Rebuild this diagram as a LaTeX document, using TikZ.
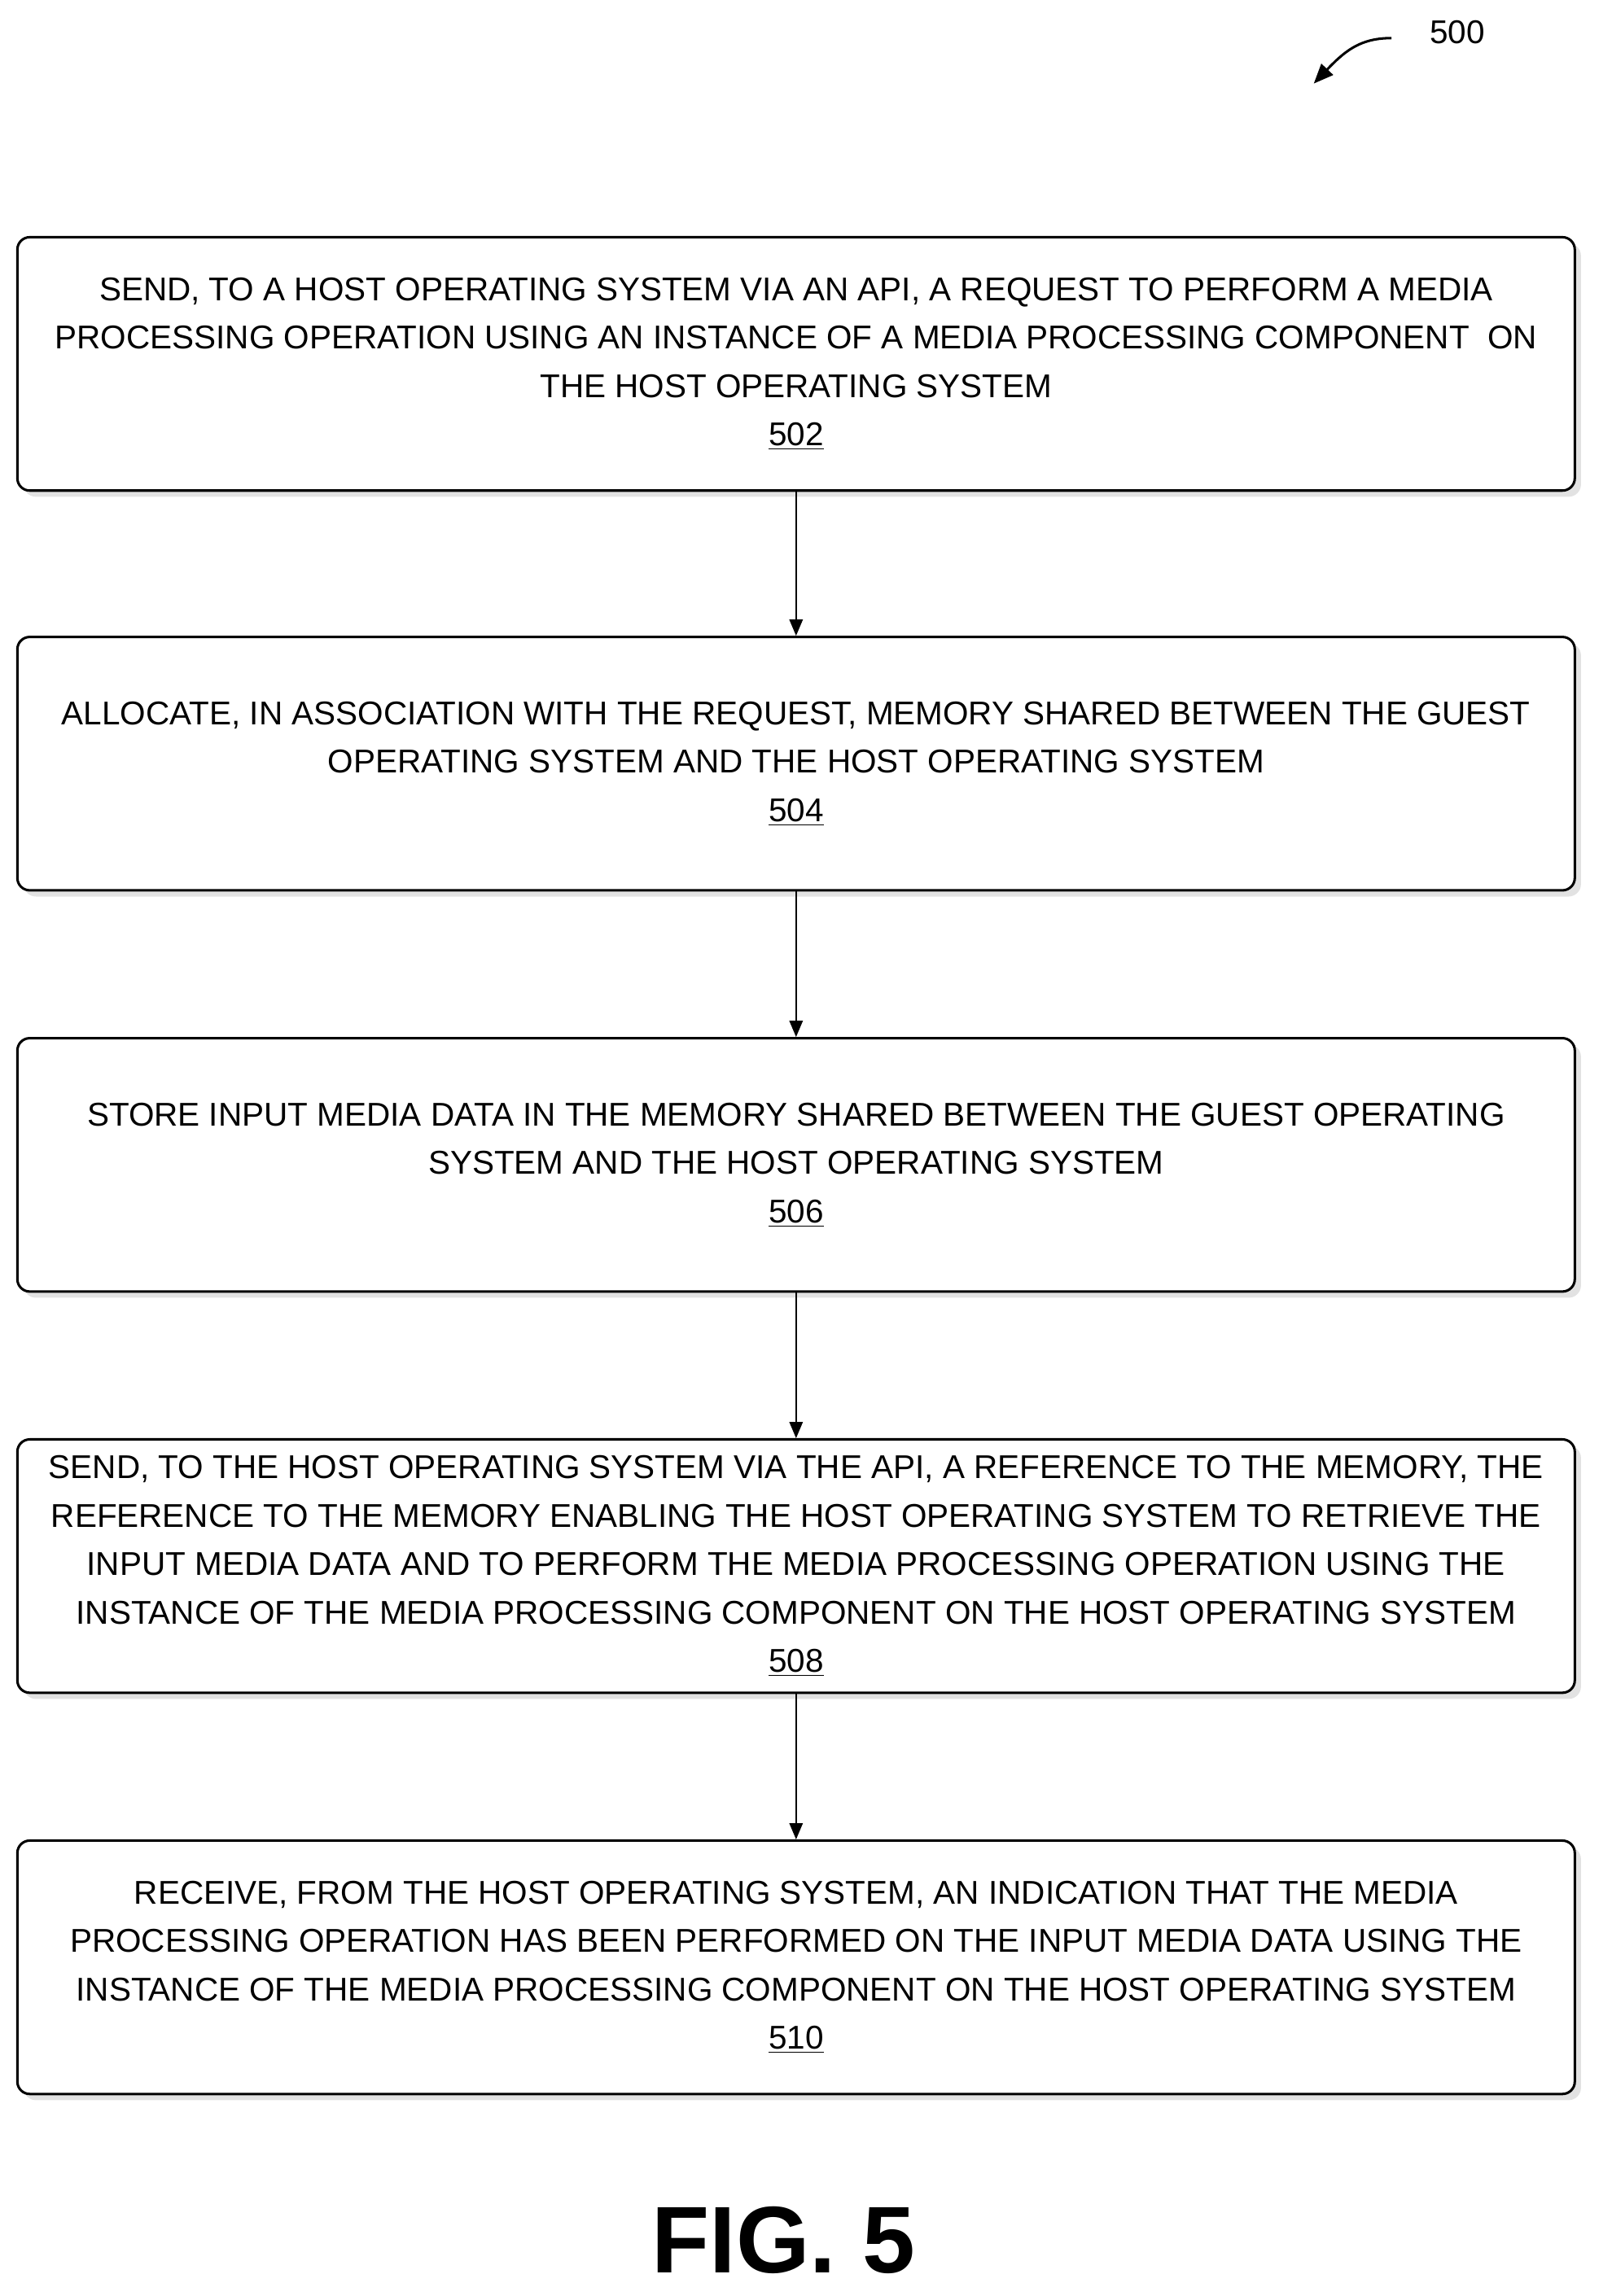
\documentclass[tikz,border=0pt]{standalone}
\usepackage{fontspec}
\setmainfont{Liberation Sans}
\usetikzlibrary{positioning,arrows,shadows}

\begin{document}
\begin{tikzpicture}[x=0.025cm,y=-0.025cm,
    stepbox/.style={rectangle,rounded corners=6pt,very thick,draw,fill=white,
		minimum width=26.575cm,minimum height=4.325cm,align=center,
		font=\fontsize{16}{23.5}\selectfont,
		drop shadow={shadow xshift=3pt,shadow yshift=-3pt,fill=gray!45}},
    flow/.style={-triangle 45,thick}
    ]
\useasboundingbox (0,0) rectangle (1100,1568);
% Steps
\node [stepbox] (s502) at (543.5,248.5) {SEND, TO A HOST OPERATING SYSTEM VIA AN API, A REQUEST TO PERFORM A MEDIA\\ PROCESSING OPERATION USING AN INSTANCE OF A MEDIA PROCESSING COMPONENT\ \ ON\\ THE HOST OPERATING SYSTEM\\ \underline{502}};
\node [stepbox] (s504) at (543.5,521.5) {ALLOCATE, IN ASSOCIATION WITH THE REQUEST, MEMORY SHARED BETWEEN THE GUEST\\ OPERATING SYSTEM AND THE HOST OPERATING SYSTEM\\ \underline{504}};
\node [stepbox] (s506) at (543.5,795.5) {STORE INPUT MEDIA DATA IN THE MEMORY SHARED BETWEEN THE GUEST OPERATING\\ SYSTEM AND THE HOST OPERATING SYSTEM\\ \underline{506}};
\node [stepbox] (s508) at (543.5,1069.5) {SEND, TO THE HOST OPERATING SYSTEM VIA THE API, A REFERENCE TO THE MEMORY, THE\\ REFERENCE TO THE MEMORY ENABLING THE HOST OPERATING SYSTEM TO RETRIEVE THE\\ INPUT MEDIA DATA AND TO PERFORM THE MEDIA PROCESSING OPERATION USING THE\\ INSTANCE OF THE MEDIA PROCESSING COMPONENT ON THE HOST OPERATING SYSTEM\\ \underline{508}};
\node [stepbox] (s510) at (543.5,1343.5) {RECEIVE, FROM THE HOST OPERATING SYSTEM, AN INDICATION THAT THE MEDIA\\ PROCESSING OPERATION HAS BEEN PERFORMED ON THE INPUT MEDIA DATA USING THE\\ INSTANCE OF THE MEDIA PROCESSING COMPONENT ON THE HOST OPERATING SYSTEM\\ \underline{510}};

\draw [flow] (s502) -- (s504);
\draw [flow] (s504) -- (s506);
\draw [flow] (s506) -- (s508);
\draw [flow] (s508) -- (s510);

% Reference label
\node [font=\fontsize{16}{18}\selectfont] (ref) at (995,22) {500};
\coordinate (reftip) at (897,57);
\draw [flow,very thick] (950,26) .. controls (925,26) and (915,38) .. (reftip);

\node [font=\bfseries\fontsize{46}{50}\selectfont] (fig) at (535,1530) {FIG. 5};
\end{tikzpicture}
\end{document}
